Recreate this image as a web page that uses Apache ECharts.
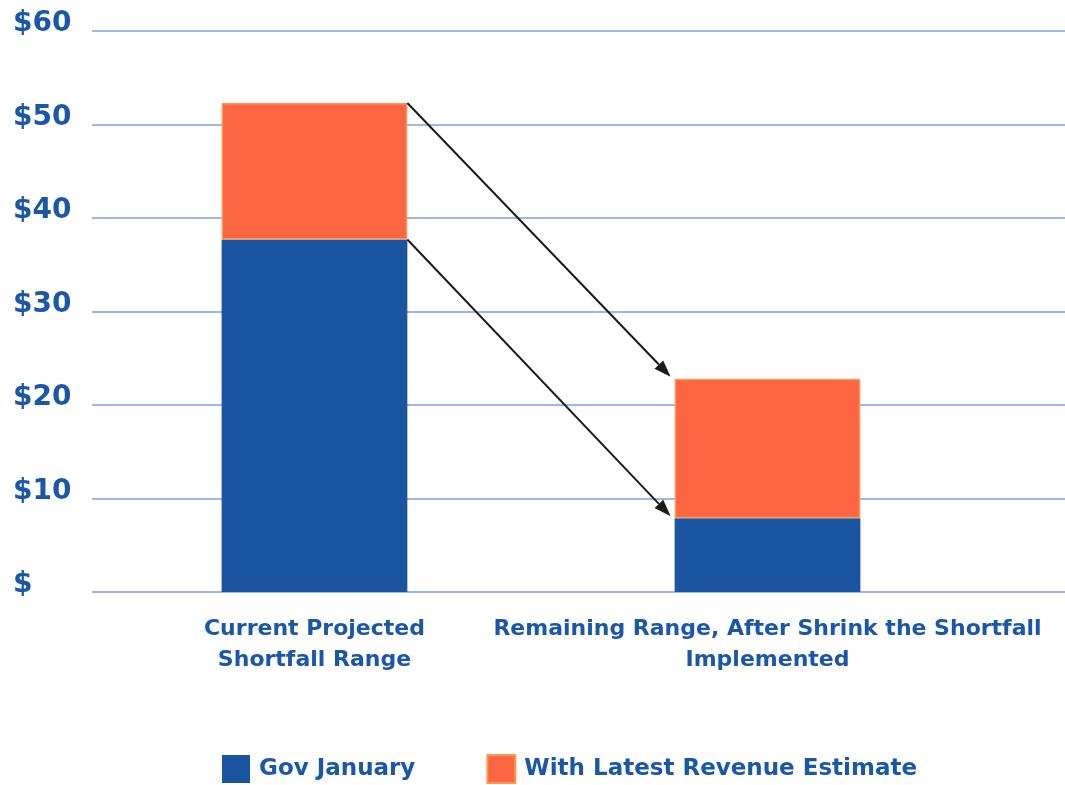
<!DOCTYPE html>
<html>
<head>
<meta charset="utf-8">
<script src="https://cdn.jsdelivr.net/npm/echarts@6/dist/echarts.min.js"></script>
<style>html,body{margin:0;padding:0;background:#fff;}#c{width:1065px;height:785px;}</style>
</head>
<body>
<div id="c"></div>
<script>
const categories = ['Current Projected\nShortfall Range', 'Remaining Range, After Shrink the Shortfall\nImplemented'];
const govJanuary = [37.7, 7.9];
const latestRevenue = [14.6, 14.9];
const seriesNames = ['Gov January', 'With Latest Revenue Estimate'];
const yMin = 0, yMax = 60, yStep = 10;

const totals = govJanuary.map((v, i) => v + latestRevenue[i]);
const arrows = [
  [0, totals[0], 1, totals[1]],
  [0, govJanuary[0], 1, govJanuary[1]]
];

const BLUE = '#1b55a2';
const ORANGE = '#fd6642';
const TEXT = '#1a57a6';
const GRIDC = '#9bb8e6';
const BAR_W = 0.41;
const FONT = 'DejaVu Sans';

const chart = echarts.init(document.getElementById('c'));
chart.setOption({
  animation: false,
  backgroundColor: '#fff',
  textStyle: { fontFamily: FONT },
  grid: [
    { left: 88, right: 71, top: 31, bottom: 193 },
    { left: 92, right: 0, top: 31, bottom: 193 }
  ],
  legend: {
    data: seriesNames,
    left: 217, top: 749,
    itemWidth: 28, itemHeight: 28, itemGap: 71,
    icon: 'rect',
    textStyle: { color: TEXT, fontSize: 23, fontWeight: 'bold', fontFamily: FONT, padding: [0, 0, 0, 4] }
  },
  xAxis: [
    {
      type: 'category', gridIndex: 0, data: categories,
      axisLine: { show: false }, axisTick: { show: false },
      axisLabel: { color: TEXT, fontSize: 22, fontWeight: 'bold', fontFamily: FONT, lineHeight: 31, margin: 22, interval: 0 }
    },
    { type: 'value', gridIndex: 1, min: 0, max: 1, show: false }
  ],
  yAxis: [
    {
      type: 'value', gridIndex: 0, min: yMin, max: yMax, interval: yStep,
      axisLine: { show: false }, axisTick: { show: false }, splitLine: { show: false },
      axisLabel: {
        color: TEXT, fontSize: 28, fontWeight: 'bold', fontFamily: FONT, align: 'left', margin: 75,
        verticalAlign: 'bottom', lineHeight: 14,
        formatter: v => v === 0 ? '$' : '$' + v
      }
    },
    {
      type: 'value', gridIndex: 1, min: yMin, max: yMax, interval: yStep,
      axisLine: { show: false }, axisTick: { show: false }, axisLabel: { show: false },
      splitLine: { show: true, lineStyle: { color: GRIDC, width: 2 } }
    }
  ],
  series: [
    {
      name: seriesNames[0], type: 'bar', stack: 'a', data: govJanuary,
      xAxisIndex: 0, yAxisIndex: 0,
      barWidth: (BAR_W * 100) + '%',
      itemStyle: { color: BLUE }
    },
    {
      name: seriesNames[1], type: 'bar', stack: 'a', data: latestRevenue,
      xAxisIndex: 0, yAxisIndex: 0,
      barWidth: (BAR_W * 100) + '%',
      itemStyle: { color: ORANGE, borderColor: '#fb9a55', borderWidth: 1.5 }
    },
    {
      name: 'arrows', type: 'custom', xAxisIndex: 0, yAxisIndex: 0,
      data: arrows, encode: { x: [0, 2], y: [1, 3] }, z: 5, silent: true,
      renderItem: function (params, api) {
        const band = api.size([1, 0])[0];
        const half = band * BAR_W / 2;
        const p0 = api.coord([api.value(0), api.value(1)]);
        const p1 = api.coord([api.value(2), api.value(3)]);
        const s = [p0[0] + half, p0[1]];
        const e = [p1[0] - half - 4, p1[1] - 2];
        const dx = e[0] - s[0], dy = e[1] - s[1];
        const len = Math.sqrt(dx * dx + dy * dy);
        const ux = dx / len, uy = dy / len;
        const hl = 17, hw = 6;
        const b = [e[0] - ux * hl, e[1] - uy * hl];
        const nx = -uy, ny = ux;
        return {
          type: 'group',
          children: [
            { type: 'line', shape: { x1: s[0], y1: s[1], x2: b[0], y2: b[1] },
              style: { stroke: '#1a1a1a', lineWidth: 2 } },
            { type: 'polygon', shape: { points: [e, [b[0] + nx * hw, b[1] + ny * hw], [b[0] - nx * hw, b[1] - ny * hw]] },
              style: { fill: '#1a1a1a' } }
          ]
        };
      }
    }
  ]
});
</script>
</body>
</html>
